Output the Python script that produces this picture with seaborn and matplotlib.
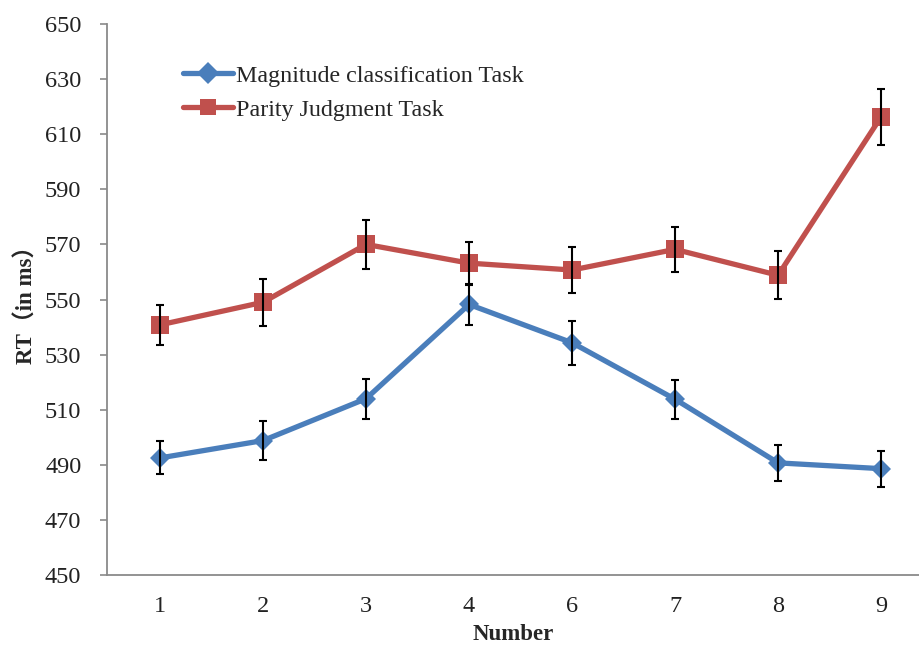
import matplotlib
matplotlib.use("Agg")
import matplotlib.pyplot as plt
import seaborn as sns
import pandas as pd

numbers = ["1", "2", "3", "4", "6", "7", "8", "9"]
magnitude_rt = [492.5, 498.8, 514.0, 548.2, 534.3, 513.8, 490.7, 488.6]
magnitude_err = [6.0, 7.0, 7.2, 7.5, 8.0, 7.0, 6.5, 6.5]
parity_rt = [540.8, 549.0, 570.0, 563.2, 560.7, 568.2, 558.8, 616.3]
parity_err = [7.2, 8.5, 9.0, 7.8, 8.2, 8.2, 8.7, 10.2]
series_names = ["Magnitude classification Task", "Parity Judgment Task"]
yticks = list(range(450, 651, 20))

sns.set_theme(style="white")
plt.rcParams["font.family"] = ["Liberation Serif", "Noto Sans CJK SC"]

df = pd.DataFrame({
    "Number": numbers * 2,
    "RT": magnitude_rt + parity_rt,
    "Task": [series_names[0]] * len(numbers) + [series_names[1]] * len(numbers),
})

blue = "#4A7EBB"
red = "#C0504D"

fig = plt.figure(figsize=(9.2, 6.47), dpi=100)
ax = fig.add_axes([107 / 920, 1 - 575 / 647, 813 / 920, 551 / 647])

sns.lineplot(data=df, x="Number", y="RT", hue="Task", style="Task",
             palette=[blue, red], markers=["D", "s"], dashes=False,
             linewidth=3.8, markersize=11, markeredgewidth=0, ax=ax,
             sort=False)
for line, ms in zip(ax.lines[:2], [10, 13.5]):
    line.set_markersize(ms)

ax.errorbar(numbers, magnitude_rt, yerr=magnitude_err, fmt="none",
            ecolor="black", elinewidth=1.5, capsize=3.2, capthick=1.5, zorder=5)
ax.errorbar(numbers, parity_rt, yerr=parity_err, fmt="none",
            ecolor="black", elinewidth=1.5, capsize=3.2, capthick=1.5, zorder=5)

ax.set_ylim(450, 650)
ax.set_yticks(yticks)
ax.set_xlim(-0.515, 7.378)

for s in ["top", "right"]:
    ax.spines[s].set_visible(False)
for s in ["left", "bottom"]:
    ax.spines[s].set_color("#8a8a8a")
    ax.spines[s].set_linewidth(1.3)

ax.tick_params(axis="y", which="both", left=True, length=5, width=1.2,
               color="#8a8a8a", labelsize=17.5, labelcolor="#222222", pad=13.5)
ax.tick_params(axis="x", bottom=False, labelsize=17.5, labelcolor="#222222", pad=9)

ax.set_xlabel("Number", fontsize=16.5, fontweight="bold", labelpad=5.5)
ax.set_ylabel("RT（in ms）", fontsize=16.5, fontweight="bold", labelpad=5)

handles, labels = ax.get_legend_handles_labels()
leg = ax.legend(handles, labels, loc="upper left", frameon=False,
                bbox_to_anchor=(183 / 920, 1 - 65 / 647),
                bbox_transform=fig.transFigure, fontsize=17.3,
                handlelength=2.1, handletextpad=0.12, labelspacing=0.5,
                borderpad=0, borderaxespad=0)
for h in leg.legend_handles:
    h.set_linewidth(3.8)

fig.savefig("out.png", dpi=100)
